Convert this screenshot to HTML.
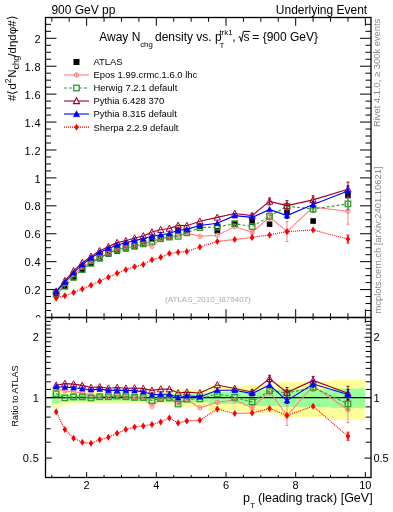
<!DOCTYPE html><html><head><meta charset="utf-8"><style>html,body{margin:0;padding:0;background:#fff;width:393px;height:512px;overflow:hidden;position:relative}</style></head><body><svg width="393" height="512" viewBox="0 0 393 512" style="position:absolute;left:0;top:0;will-change:transform"><rect width="393" height="512" fill="#fff"/><rect x="51.8" y="388.61" width="8.71" height="19.24" fill="#ffff99"/><rect x="60.51" y="391" width="8.71" height="13.97" fill="#ffff99"/><rect x="69.22" y="391.81" width="8.71" height="12.22" fill="#ffff99"/><rect x="77.93" y="391.81" width="8.71" height="12.22" fill="#ffff99"/><rect x="86.64" y="392.21" width="8.71" height="11.34" fill="#ffff99"/><rect x="95.35" y="392.21" width="8.71" height="11.34" fill="#ffff99"/><rect x="104.06" y="392.21" width="8.71" height="11.34" fill="#ffff99"/><rect x="112.77" y="392.21" width="8.71" height="11.34" fill="#ffff99"/><rect x="121.48" y="392.21" width="8.71" height="11.34" fill="#ffff99"/><rect x="130.19" y="392.21" width="8.71" height="11.34" fill="#ffff99"/><rect x="138.9" y="392.21" width="8.71" height="11.34" fill="#ffff99"/><rect x="147.61" y="391.81" width="8.71" height="12.22" fill="#ffff99"/><rect x="156.32" y="391.81" width="8.71" height="12.22" fill="#ffff99"/><rect x="165.03" y="391.81" width="8.71" height="12.22" fill="#ffff99"/><rect x="173.74" y="389.4" width="8.71" height="17.48" fill="#ffff99"/><rect x="182.45" y="389.4" width="8.71" height="17.48" fill="#ffff99"/><rect x="191.16" y="389.4" width="17.42" height="17.48" fill="#ffff99"/><rect x="208.58" y="386.28" width="17.42" height="24.55" fill="#ffff99"/><rect x="226" y="386.28" width="17.42" height="24.55" fill="#ffff99"/><rect x="243.42" y="384.77" width="17.42" height="28.12" fill="#ffff99"/><rect x="260.84" y="384.77" width="17.42" height="28.12" fill="#ffff99"/><rect x="278.26" y="381.82" width="17.42" height="35.32" fill="#ffff99"/><rect x="295.68" y="381.82" width="34.84" height="35.32" fill="#ffff99"/><rect x="330.52" y="380.02" width="34.84" height="39.89" fill="#ffff99"/><rect x="51.8" y="392.62" width="8.71" height="10.47" fill="#99ff99"/><rect x="60.51" y="394.7" width="8.71" height="6.1" fill="#99ff99"/><rect x="69.22" y="394.7" width="8.71" height="6.1" fill="#99ff99"/><rect x="77.93" y="394.7" width="8.71" height="6.1" fill="#99ff99"/><rect x="86.64" y="394.7" width="8.71" height="6.1" fill="#99ff99"/><rect x="95.35" y="394.7" width="8.71" height="6.1" fill="#99ff99"/><rect x="104.06" y="394.7" width="8.71" height="6.1" fill="#99ff99"/><rect x="112.77" y="394.7" width="8.71" height="6.1" fill="#99ff99"/><rect x="121.48" y="394.7" width="8.71" height="6.1" fill="#99ff99"/><rect x="130.19" y="394.7" width="8.71" height="6.1" fill="#99ff99"/><rect x="138.9" y="394.7" width="8.71" height="6.1" fill="#99ff99"/><rect x="147.61" y="394.28" width="8.71" height="6.97" fill="#99ff99"/><rect x="156.32" y="394.28" width="8.71" height="6.97" fill="#99ff99"/><rect x="165.03" y="394.28" width="8.71" height="6.97" fill="#99ff99"/><rect x="173.74" y="393.45" width="8.71" height="8.72" fill="#99ff99"/><rect x="182.45" y="393.45" width="8.71" height="8.72" fill="#99ff99"/><rect x="191.16" y="393.45" width="17.42" height="8.72" fill="#99ff99"/><rect x="208.58" y="391.81" width="17.42" height="12.22" fill="#99ff99"/><rect x="226" y="391.81" width="17.42" height="12.22" fill="#99ff99"/><rect x="243.42" y="390.19" width="17.42" height="15.72" fill="#99ff99"/><rect x="260.84" y="390.19" width="17.42" height="15.72" fill="#99ff99"/><rect x="278.26" y="389.4" width="17.42" height="17.48" fill="#99ff99"/><rect x="295.68" y="389.4" width="34.84" height="17.48" fill="#99ff99"/><rect x="330.52" y="388.61" width="34.84" height="19.24" fill="#99ff99"/><line x1="45.5" y1="397.7" x2="371.0" y2="397.7" stroke="#000" stroke-width="1.3"/><g><rect x="53.36" y="291.95" width="5.6" height="5.6" fill="#000" stroke="none" stroke-width="0"/><rect x="62.06" y="283.43" width="5.6" height="5.6" fill="#000" stroke="none" stroke-width="0"/><rect x="70.78" y="274.77" width="5.6" height="5.6" fill="#000" stroke="none" stroke-width="0"/><rect x="79.48" y="267.1" width="5.6" height="5.6" fill="#000" stroke="none" stroke-width="0"/><rect x="88.2" y="260.4" width="5.6" height="5.6" fill="#000" stroke="none" stroke-width="0"/><rect x="96.91" y="255.79" width="5.6" height="5.6" fill="#000" stroke="none" stroke-width="0"/><rect x="105.62" y="251.18" width="5.6" height="5.6" fill="#000" stroke="none" stroke-width="0"/><rect x="114.33" y="248.11" width="5.6" height="5.6" fill="#000" stroke="none" stroke-width="0"/><rect x="123.04" y="245.88" width="5.6" height="5.6" fill="#000" stroke="none" stroke-width="0"/><rect x="131.75" y="243.64" width="5.6" height="5.6" fill="#000" stroke="none" stroke-width="0"/><rect x="140.45" y="241.27" width="5.6" height="5.6" fill="#000" stroke="none" stroke-width="0"/><rect x="149.16" y="236.11" width="5.6" height="5.6" fill="#000" stroke="none" stroke-width="0"/><rect x="157.88" y="235.13" width="5.6" height="5.6" fill="#000" stroke="none" stroke-width="0"/><rect x="166.58" y="234.01" width="5.6" height="5.6" fill="#000" stroke="none" stroke-width="0"/><rect x="175.3" y="227.45" width="5.6" height="5.6" fill="#000" stroke="none" stroke-width="0"/><rect x="184" y="228.57" width="5.6" height="5.6" fill="#000" stroke="none" stroke-width="0"/><rect x="197.07" y="223.54" width="5.6" height="5.6" fill="#000" stroke="none" stroke-width="0"/><rect x="214.49" y="228.15" width="5.6" height="5.6" fill="#000" stroke="none" stroke-width="0"/><rect x="231.91" y="221.17" width="5.6" height="5.6" fill="#000" stroke="none" stroke-width="0"/><rect x="249.33" y="219.21" width="5.6" height="5.6" fill="#000" stroke="none" stroke-width="0"/><rect x="266.75" y="221.31" width="5.6" height="5.6" fill="#000" stroke="none" stroke-width="0"/><rect x="284.17" y="209.3" width="5.6" height="5.6" fill="#000" stroke="none" stroke-width="0"/><rect x="310.3" y="218.24" width="5.6" height="5.6" fill="#000" stroke="none" stroke-width="0"/><rect x="345.14" y="192.69" width="5.6" height="5.6" fill="#000" stroke="none" stroke-width="0"/><path d="M56.16 292.41 L64.86 283.65 L73.58 274.78 L82.28 267.26 L91 261.74 L99.7 257.43 L108.42 253.25 L117.12 249.13 L125.84 248.12 L134.55 246.2 L143.25 244.32 L151.97 246.29 L160.68 238.75 L169.38 237.09 L178.1 235.4 L186.81 233.13 L199.87 236.32 L217.29 235.31 L234.71 226.51 L252.13 232.37 L269.55 216.99 L286.97 231.58 L313.1 207.17 L347.94 211.19" fill="none" stroke="#ff8080" stroke-width="1.1"/><line x1="269.55" y1="212.99" x2="269.55" y2="220.99" stroke="#ff8080" stroke-width="1"/><line x1="268.05" y1="212.99" x2="271.05" y2="212.99" stroke="#ff8080" stroke-width="1"/><line x1="268.05" y1="220.99" x2="271.05" y2="220.99" stroke="#ff8080" stroke-width="1"/><line x1="286.97" y1="221.58" x2="286.97" y2="241.58" stroke="#ff8080" stroke-width="1"/><line x1="285.47" y1="221.58" x2="288.47" y2="221.58" stroke="#ff8080" stroke-width="1"/><line x1="285.47" y1="241.58" x2="288.47" y2="241.58" stroke="#ff8080" stroke-width="1"/><line x1="313.1" y1="203.17" x2="313.1" y2="211.17" stroke="#ff8080" stroke-width="1"/><line x1="311.6" y1="203.17" x2="314.6" y2="203.17" stroke="#ff8080" stroke-width="1"/><line x1="311.6" y1="211.17" x2="314.6" y2="211.17" stroke="#ff8080" stroke-width="1"/><line x1="347.94" y1="198.19" x2="347.94" y2="224.19" stroke="#ff8080" stroke-width="1"/><line x1="346.44" y1="198.19" x2="349.44" y2="198.19" stroke="#ff8080" stroke-width="1"/><line x1="346.44" y1="224.19" x2="349.44" y2="224.19" stroke="#ff8080" stroke-width="1"/><line x1="252.13" y1="229.37" x2="252.13" y2="235.37" stroke="#ff8080" stroke-width="1"/><line x1="250.63" y1="229.37" x2="253.63" y2="229.37" stroke="#ff8080" stroke-width="1"/><line x1="250.63" y1="235.37" x2="253.63" y2="235.37" stroke="#ff8080" stroke-width="1"/><circle cx="56.16" cy="292.41" r="2.2" fill="none" stroke="#ff8080" stroke-width="1"/><line x1="56.16" y1="290.21" x2="56.16" y2="294.61" stroke="#ff8080" stroke-width="0.8"/><circle cx="64.86" cy="283.65" r="2.2" fill="none" stroke="#ff8080" stroke-width="1"/><line x1="64.86" y1="281.45" x2="64.86" y2="285.85" stroke="#ff8080" stroke-width="0.8"/><circle cx="73.58" cy="274.78" r="2.2" fill="none" stroke="#ff8080" stroke-width="1"/><line x1="73.58" y1="272.58" x2="73.58" y2="276.98" stroke="#ff8080" stroke-width="0.8"/><circle cx="82.28" cy="267.26" r="2.2" fill="none" stroke="#ff8080" stroke-width="1"/><line x1="82.28" y1="265.06" x2="82.28" y2="269.46" stroke="#ff8080" stroke-width="0.8"/><circle cx="91" cy="261.74" r="2.2" fill="none" stroke="#ff8080" stroke-width="1"/><line x1="91" y1="259.54" x2="91" y2="263.94" stroke="#ff8080" stroke-width="0.8"/><circle cx="99.7" cy="257.43" r="2.2" fill="none" stroke="#ff8080" stroke-width="1"/><line x1="99.7" y1="255.23" x2="99.7" y2="259.63" stroke="#ff8080" stroke-width="0.8"/><circle cx="108.42" cy="253.25" r="2.2" fill="none" stroke="#ff8080" stroke-width="1"/><line x1="108.42" y1="251.05" x2="108.42" y2="255.45" stroke="#ff8080" stroke-width="0.8"/><circle cx="117.12" cy="249.13" r="2.2" fill="none" stroke="#ff8080" stroke-width="1"/><line x1="117.12" y1="246.93" x2="117.12" y2="251.33" stroke="#ff8080" stroke-width="0.8"/><circle cx="125.84" cy="248.12" r="2.2" fill="none" stroke="#ff8080" stroke-width="1"/><line x1="125.84" y1="245.92" x2="125.84" y2="250.32" stroke="#ff8080" stroke-width="0.8"/><circle cx="134.55" cy="246.2" r="2.2" fill="none" stroke="#ff8080" stroke-width="1"/><line x1="134.55" y1="244" x2="134.55" y2="248.4" stroke="#ff8080" stroke-width="0.8"/><circle cx="143.25" cy="244.32" r="2.2" fill="none" stroke="#ff8080" stroke-width="1"/><line x1="143.25" y1="242.12" x2="143.25" y2="246.52" stroke="#ff8080" stroke-width="0.8"/><circle cx="151.97" cy="246.29" r="2.2" fill="none" stroke="#ff8080" stroke-width="1"/><line x1="151.97" y1="244.09" x2="151.97" y2="248.49" stroke="#ff8080" stroke-width="0.8"/><circle cx="160.68" cy="238.75" r="2.2" fill="none" stroke="#ff8080" stroke-width="1"/><line x1="160.68" y1="236.55" x2="160.68" y2="240.95" stroke="#ff8080" stroke-width="0.8"/><circle cx="169.38" cy="237.09" r="2.2" fill="none" stroke="#ff8080" stroke-width="1"/><line x1="169.38" y1="234.89" x2="169.38" y2="239.29" stroke="#ff8080" stroke-width="0.8"/><circle cx="178.1" cy="235.4" r="2.2" fill="none" stroke="#ff8080" stroke-width="1"/><line x1="178.1" y1="233.2" x2="178.1" y2="237.6" stroke="#ff8080" stroke-width="0.8"/><circle cx="186.81" cy="233.13" r="2.2" fill="none" stroke="#ff8080" stroke-width="1"/><line x1="186.81" y1="230.93" x2="186.81" y2="235.33" stroke="#ff8080" stroke-width="0.8"/><circle cx="199.87" cy="236.32" r="2.2" fill="none" stroke="#ff8080" stroke-width="1"/><line x1="199.87" y1="234.12" x2="199.87" y2="238.52" stroke="#ff8080" stroke-width="0.8"/><circle cx="217.29" cy="235.31" r="2.2" fill="none" stroke="#ff8080" stroke-width="1"/><line x1="217.29" y1="233.11" x2="217.29" y2="237.51" stroke="#ff8080" stroke-width="0.8"/><circle cx="234.71" cy="226.51" r="2.2" fill="none" stroke="#ff8080" stroke-width="1"/><line x1="234.71" y1="224.31" x2="234.71" y2="228.71" stroke="#ff8080" stroke-width="0.8"/><circle cx="252.13" cy="232.37" r="2.2" fill="none" stroke="#ff8080" stroke-width="1"/><line x1="252.13" y1="230.17" x2="252.13" y2="234.57" stroke="#ff8080" stroke-width="0.8"/><circle cx="269.55" cy="216.99" r="2.2" fill="none" stroke="#ff8080" stroke-width="1"/><line x1="269.55" y1="214.79" x2="269.55" y2="219.19" stroke="#ff8080" stroke-width="0.8"/><circle cx="286.97" cy="231.58" r="2.2" fill="none" stroke="#ff8080" stroke-width="1"/><line x1="286.97" y1="229.38" x2="286.97" y2="233.78" stroke="#ff8080" stroke-width="0.8"/><circle cx="313.1" cy="207.17" r="2.2" fill="none" stroke="#ff8080" stroke-width="1"/><line x1="313.1" y1="204.97" x2="313.1" y2="209.37" stroke="#ff8080" stroke-width="0.8"/><circle cx="347.94" cy="211.19" r="2.2" fill="none" stroke="#ff8080" stroke-width="1"/><line x1="347.94" y1="208.99" x2="347.94" y2="213.39" stroke="#ff8080" stroke-width="0.8"/><path d="M56.16 293.7 L64.86 286.3 L73.58 277.21 L82.28 269.46 L91 263.38 L99.7 257.91 L108.42 253.25 L117.12 249.6 L125.84 247.88 L134.55 246.2 L143.25 243.9 L151.97 241.39 L160.68 238.75 L169.38 237.09 L178.1 236.34 L186.81 232.84 L199.87 227.59 L217.29 227.09 L234.71 223.65 L252.13 226.51 L269.55 216.41 L286.97 206.26 L313.1 209.05 L347.94 203.87" fill="none" stroke="#339933" stroke-width="1.1" stroke-dasharray="3,2"/><line x1="347.94" y1="197.87" x2="347.94" y2="209.87" stroke="#339933" stroke-width="1"/><line x1="346.44" y1="197.87" x2="349.44" y2="197.87" stroke="#339933" stroke-width="1"/><line x1="346.44" y1="209.87" x2="349.44" y2="209.87" stroke="#339933" stroke-width="1"/><line x1="313.1" y1="205.55" x2="313.1" y2="212.55" stroke="#339933" stroke-width="1"/><line x1="311.6" y1="205.55" x2="314.6" y2="205.55" stroke="#339933" stroke-width="1"/><line x1="311.6" y1="212.55" x2="314.6" y2="212.55" stroke="#339933" stroke-width="1"/><line x1="286.97" y1="203.26" x2="286.97" y2="209.26" stroke="#339933" stroke-width="1"/><line x1="285.47" y1="203.26" x2="288.47" y2="203.26" stroke="#339933" stroke-width="1"/><line x1="285.47" y1="209.26" x2="288.47" y2="209.26" stroke="#339933" stroke-width="1"/><rect x="53.41" y="290.95" width="5.5" height="5.5" fill="none" stroke="#339933" stroke-width="1.3"/><rect x="62.11" y="283.55" width="5.5" height="5.5" fill="none" stroke="#339933" stroke-width="1.3"/><rect x="70.83" y="274.46" width="5.5" height="5.5" fill="none" stroke="#339933" stroke-width="1.3"/><rect x="79.53" y="266.71" width="5.5" height="5.5" fill="none" stroke="#339933" stroke-width="1.3"/><rect x="88.25" y="260.63" width="5.5" height="5.5" fill="none" stroke="#339933" stroke-width="1.3"/><rect x="96.95" y="255.16" width="5.5" height="5.5" fill="none" stroke="#339933" stroke-width="1.3"/><rect x="105.67" y="250.5" width="5.5" height="5.5" fill="none" stroke="#339933" stroke-width="1.3"/><rect x="114.38" y="246.85" width="5.5" height="5.5" fill="none" stroke="#339933" stroke-width="1.3"/><rect x="123.09" y="245.13" width="5.5" height="5.5" fill="none" stroke="#339933" stroke-width="1.3"/><rect x="131.8" y="243.45" width="5.5" height="5.5" fill="none" stroke="#339933" stroke-width="1.3"/><rect x="140.5" y="241.15" width="5.5" height="5.5" fill="none" stroke="#339933" stroke-width="1.3"/><rect x="149.22" y="238.64" width="5.5" height="5.5" fill="none" stroke="#339933" stroke-width="1.3"/><rect x="157.93" y="236" width="5.5" height="5.5" fill="none" stroke="#339933" stroke-width="1.3"/><rect x="166.63" y="234.34" width="5.5" height="5.5" fill="none" stroke="#339933" stroke-width="1.3"/><rect x="175.35" y="233.59" width="5.5" height="5.5" fill="none" stroke="#339933" stroke-width="1.3"/><rect x="184.06" y="230.09" width="5.5" height="5.5" fill="none" stroke="#339933" stroke-width="1.3"/><rect x="197.12" y="224.84" width="5.5" height="5.5" fill="none" stroke="#339933" stroke-width="1.3"/><rect x="214.54" y="224.34" width="5.5" height="5.5" fill="none" stroke="#339933" stroke-width="1.3"/><rect x="231.96" y="220.9" width="5.5" height="5.5" fill="none" stroke="#339933" stroke-width="1.3"/><rect x="249.38" y="223.76" width="5.5" height="5.5" fill="none" stroke="#339933" stroke-width="1.3"/><rect x="266.8" y="213.66" width="5.5" height="5.5" fill="none" stroke="#339933" stroke-width="1.3"/><rect x="284.22" y="203.51" width="5.5" height="5.5" fill="none" stroke="#339933" stroke-width="1.3"/><rect x="310.35" y="206.3" width="5.5" height="5.5" fill="none" stroke="#339933" stroke-width="1.3"/><rect x="345.19" y="201.12" width="5.5" height="5.5" fill="none" stroke="#339933" stroke-width="1.3"/><path d="M56.16 291.23 L64.86 280.74 L73.58 270.83 L82.28 262.68 L91 256.45 L99.7 250.81 L108.42 246.66 L117.12 242.64 L125.84 240.75 L134.55 238.07 L143.25 235.99 L151.97 232.04 L160.68 229.67 L169.38 228.44 L178.1 225.41 L186.81 225.65 L199.87 221.29 L217.29 217.36 L234.71 213.55 L252.13 215.56 L269.55 201.41 L286.97 205.62 L313.1 199.85 L347.94 189.17" fill="none" stroke="#a00028" stroke-width="1.1"/><line x1="269.55" y1="197.91" x2="269.55" y2="204.91" stroke="#a00028" stroke-width="1"/><line x1="268.05" y1="197.91" x2="271.05" y2="197.91" stroke="#a00028" stroke-width="1"/><line x1="268.05" y1="204.91" x2="271.05" y2="204.91" stroke="#a00028" stroke-width="1"/><line x1="286.97" y1="200.62" x2="286.97" y2="210.62" stroke="#a00028" stroke-width="1"/><line x1="285.47" y1="200.62" x2="288.47" y2="200.62" stroke="#a00028" stroke-width="1"/><line x1="285.47" y1="210.62" x2="288.47" y2="210.62" stroke="#a00028" stroke-width="1"/><line x1="313.1" y1="195.85" x2="313.1" y2="203.85" stroke="#a00028" stroke-width="1"/><line x1="311.6" y1="195.85" x2="314.6" y2="195.85" stroke="#a00028" stroke-width="1"/><line x1="311.6" y1="203.85" x2="314.6" y2="203.85" stroke="#a00028" stroke-width="1"/><line x1="347.94" y1="182.17" x2="347.94" y2="196.17" stroke="#a00028" stroke-width="1"/><line x1="346.44" y1="182.17" x2="349.44" y2="182.17" stroke="#a00028" stroke-width="1"/><line x1="346.44" y1="196.17" x2="349.44" y2="196.17" stroke="#a00028" stroke-width="1"/><line x1="252.13" y1="213.56" x2="252.13" y2="217.56" stroke="#a00028" stroke-width="1"/><line x1="250.63" y1="213.56" x2="253.63" y2="213.56" stroke="#a00028" stroke-width="1"/><line x1="250.63" y1="217.56" x2="253.63" y2="217.56" stroke="#a00028" stroke-width="1"/><path d="M56.16 287.89L59.36 293.97L52.95 293.97Z" fill="none" stroke="#a00028" stroke-width="1.0"/><path d="M64.86 277.39L68.06 283.47L61.66 283.47Z" fill="none" stroke="#a00028" stroke-width="1.0"/><path d="M73.58 267.48L76.78 273.56L70.38 273.56Z" fill="none" stroke="#a00028" stroke-width="1.0"/><path d="M82.28 259.33L85.48 265.41L79.08 265.41Z" fill="none" stroke="#a00028" stroke-width="1.0"/><path d="M91 253.11L94.2 259.19L87.8 259.19Z" fill="none" stroke="#a00028" stroke-width="1.0"/><path d="M99.7 247.47L102.91 253.55L96.5 253.55Z" fill="none" stroke="#a00028" stroke-width="1.0"/><path d="M108.42 243.32L111.62 249.4L105.22 249.4Z" fill="none" stroke="#a00028" stroke-width="1.0"/><path d="M117.12 239.3L120.33 245.38L113.92 245.38Z" fill="none" stroke="#a00028" stroke-width="1.0"/><path d="M125.84 237.4L129.03 243.48L122.64 243.48Z" fill="none" stroke="#a00028" stroke-width="1.0"/><path d="M134.55 234.73L137.75 240.81L131.35 240.81Z" fill="none" stroke="#a00028" stroke-width="1.0"/><path d="M143.25 232.64L146.45 238.72L140.06 238.72Z" fill="none" stroke="#a00028" stroke-width="1.0"/><path d="M151.97 228.69L155.16 234.77L148.77 234.77Z" fill="none" stroke="#a00028" stroke-width="1.0"/><path d="M160.68 226.33L163.88 232.41L157.48 232.41Z" fill="none" stroke="#a00028" stroke-width="1.0"/><path d="M169.38 225.1L172.58 231.18L166.19 231.18Z" fill="none" stroke="#a00028" stroke-width="1.0"/><path d="M178.1 222.07L181.3 228.15L174.9 228.15Z" fill="none" stroke="#a00028" stroke-width="1.0"/><path d="M186.81 222.3L190 228.38L183.61 228.38Z" fill="none" stroke="#a00028" stroke-width="1.0"/><path d="M199.87 217.94L203.07 224.02L196.67 224.02Z" fill="none" stroke="#a00028" stroke-width="1.0"/><path d="M217.29 214.02L220.49 220.1L214.09 220.1Z" fill="none" stroke="#a00028" stroke-width="1.0"/><path d="M234.71 210.21L237.91 216.29L231.51 216.29Z" fill="none" stroke="#a00028" stroke-width="1.0"/><path d="M252.13 212.21L255.33 218.29L248.93 218.29Z" fill="none" stroke="#a00028" stroke-width="1.0"/><path d="M269.55 198.07L272.75 204.15L266.35 204.15Z" fill="none" stroke="#a00028" stroke-width="1.0"/><path d="M286.97 202.28L290.17 208.36L283.77 208.36Z" fill="none" stroke="#a00028" stroke-width="1.0"/><path d="M313.1 196.5L316.3 202.58L309.9 202.58Z" fill="none" stroke="#a00028" stroke-width="1.0"/><path d="M347.94 185.83L351.14 191.91L344.74 191.91Z" fill="none" stroke="#a00028" stroke-width="1.0"/><path d="M56.16 291.68 L64.86 282.22 L73.58 272.72 L82.28 264.72 L91 257.97 L99.7 252.48 L108.42 248.43 L117.12 245.09 L125.84 242.66 L134.55 240.5 L143.25 238.74 L151.97 236.24 L160.68 234.67 L169.38 233.5 L178.1 230.25 L186.81 229.37 L199.87 225.5 L217.29 223.27 L234.71 215.68 L252.13 217.41 L269.55 209.45 L286.97 215.55 L313.1 204.61 L347.94 190.92" fill="none" stroke="#0000ff" stroke-width="1.1"/><line x1="286.97" y1="212.55" x2="286.97" y2="218.55" stroke="#0000ff" stroke-width="1"/><line x1="285.47" y1="212.55" x2="288.47" y2="212.55" stroke="#0000ff" stroke-width="1"/><line x1="285.47" y1="218.55" x2="288.47" y2="218.55" stroke="#0000ff" stroke-width="1"/><line x1="347.94" y1="185.92" x2="347.94" y2="195.92" stroke="#0000ff" stroke-width="1"/><line x1="346.44" y1="185.92" x2="349.44" y2="185.92" stroke="#0000ff" stroke-width="1"/><line x1="346.44" y1="195.92" x2="349.44" y2="195.92" stroke="#0000ff" stroke-width="1"/><line x1="313.1" y1="201.61" x2="313.1" y2="207.61" stroke="#0000ff" stroke-width="1"/><line x1="311.6" y1="201.61" x2="314.6" y2="201.61" stroke="#0000ff" stroke-width="1"/><line x1="311.6" y1="207.61" x2="314.6" y2="207.61" stroke="#0000ff" stroke-width="1"/><path d="M56.16 288.76L58.95 294.08L53.36 294.08Z" fill="#0000ff" stroke="#0000ff" stroke-width="0.6"/><path d="M64.86 279.3L67.66 284.62L62.06 284.62Z" fill="#0000ff" stroke="#0000ff" stroke-width="0.6"/><path d="M73.58 269.79L76.38 275.11L70.78 275.11Z" fill="#0000ff" stroke="#0000ff" stroke-width="0.6"/><path d="M82.28 261.79L85.08 267.11L79.48 267.11Z" fill="#0000ff" stroke="#0000ff" stroke-width="0.6"/><path d="M91 255.05L93.8 260.37L88.2 260.37Z" fill="#0000ff" stroke="#0000ff" stroke-width="0.6"/><path d="M99.7 249.55L102.5 254.87L96.91 254.87Z" fill="#0000ff" stroke="#0000ff" stroke-width="0.6"/><path d="M108.42 245.5L111.22 250.82L105.62 250.82Z" fill="#0000ff" stroke="#0000ff" stroke-width="0.6"/><path d="M117.12 242.16L119.92 247.48L114.33 247.48Z" fill="#0000ff" stroke="#0000ff" stroke-width="0.6"/><path d="M125.84 239.74L128.64 245.06L123.04 245.06Z" fill="#0000ff" stroke="#0000ff" stroke-width="0.6"/><path d="M134.55 237.57L137.35 242.89L131.75 242.89Z" fill="#0000ff" stroke="#0000ff" stroke-width="0.6"/><path d="M143.25 235.82L146.06 241.14L140.45 241.14Z" fill="#0000ff" stroke="#0000ff" stroke-width="0.6"/><path d="M151.97 233.32L154.77 238.64L149.16 238.64Z" fill="#0000ff" stroke="#0000ff" stroke-width="0.6"/><path d="M160.68 231.74L163.48 237.06L157.88 237.06Z" fill="#0000ff" stroke="#0000ff" stroke-width="0.6"/><path d="M169.38 230.58L172.19 235.9L166.58 235.9Z" fill="#0000ff" stroke="#0000ff" stroke-width="0.6"/><path d="M178.1 227.32L180.9 232.64L175.3 232.64Z" fill="#0000ff" stroke="#0000ff" stroke-width="0.6"/><path d="M186.81 226.44L189.61 231.76L184 231.76Z" fill="#0000ff" stroke="#0000ff" stroke-width="0.6"/><path d="M199.87 222.57L202.67 227.89L197.07 227.89Z" fill="#0000ff" stroke="#0000ff" stroke-width="0.6"/><path d="M217.29 220.35L220.09 225.67L214.49 225.67Z" fill="#0000ff" stroke="#0000ff" stroke-width="0.6"/><path d="M234.71 212.75L237.51 218.07L231.91 218.07Z" fill="#0000ff" stroke="#0000ff" stroke-width="0.6"/><path d="M252.13 214.49L254.93 219.81L249.33 219.81Z" fill="#0000ff" stroke="#0000ff" stroke-width="0.6"/><path d="M269.55 206.52L272.35 211.84L266.75 211.84Z" fill="#0000ff" stroke="#0000ff" stroke-width="0.6"/><path d="M286.97 212.63L289.77 217.95L284.17 217.95Z" fill="#0000ff" stroke="#0000ff" stroke-width="0.6"/><path d="M313.1 201.68L315.9 207L310.3 207Z" fill="#0000ff" stroke="#0000ff" stroke-width="0.6"/><path d="M347.94 188L350.74 193.32L345.14 193.32Z" fill="#0000ff" stroke="#0000ff" stroke-width="0.6"/><path d="M56.16 298.15 L64.86 295.82 L73.58 292.42 L82.28 288.97 L91 285.33 L99.7 281.16 L108.42 277.14 L117.12 273.2 L125.84 269.78 L134.55 266.74 L143.25 264.44 L151.97 259.72 L160.68 257.3 L169.38 253.51 L178.1 252.24 L186.81 251.5 L199.87 247.09 L217.29 241.48 L234.71 239.48 L252.13 237.48 L269.55 234.9 L286.97 231.58 L313.1 230 L347.94 239.07" fill="none" stroke="#ff0000" stroke-width="1.2" stroke-dasharray="1,1"/><line x1="347.94" y1="235.07" x2="347.94" y2="243.07" stroke="#ff0000" stroke-width="1"/><line x1="346.44" y1="235.07" x2="349.44" y2="235.07" stroke="#ff0000" stroke-width="1"/><line x1="346.44" y1="243.07" x2="349.44" y2="243.07" stroke="#ff0000" stroke-width="1"/><path d="M56.16 294.65L58.45 298.15L56.16 301.65L53.86 298.15Z" fill="#ff0000"/><path d="M64.86 292.32L67.16 295.82L64.86 299.32L62.56 295.82Z" fill="#ff0000"/><path d="M73.58 288.92L75.88 292.42L73.58 295.92L71.28 292.42Z" fill="#ff0000"/><path d="M82.28 285.47L84.58 288.97L82.28 292.47L79.98 288.97Z" fill="#ff0000"/><path d="M91 281.83L93.3 285.33L91 288.83L88.7 285.33Z" fill="#ff0000"/><path d="M99.7 277.66L102 281.16L99.7 284.66L97.41 281.16Z" fill="#ff0000"/><path d="M108.42 273.64L110.72 277.14L108.42 280.64L106.12 277.14Z" fill="#ff0000"/><path d="M117.12 269.7L119.42 273.2L117.12 276.7L114.83 273.2Z" fill="#ff0000"/><path d="M125.84 266.28L128.14 269.78L125.84 273.28L123.54 269.78Z" fill="#ff0000"/><path d="M134.55 263.24L136.85 266.74L134.55 270.24L132.25 266.74Z" fill="#ff0000"/><path d="M143.25 260.94L145.56 264.44L143.25 267.94L140.95 264.44Z" fill="#ff0000"/><path d="M151.97 256.22L154.27 259.72L151.97 263.22L149.66 259.72Z" fill="#ff0000"/><path d="M160.68 253.8L162.98 257.3L160.68 260.8L158.38 257.3Z" fill="#ff0000"/><path d="M169.38 250.01L171.69 253.51L169.38 257.01L167.08 253.51Z" fill="#ff0000"/><path d="M178.1 248.74L180.4 252.24L178.1 255.74L175.8 252.24Z" fill="#ff0000"/><path d="M186.81 248L189.11 251.5L186.81 255L184.5 251.5Z" fill="#ff0000"/><path d="M199.87 243.59L202.17 247.09L199.87 250.59L197.57 247.09Z" fill="#ff0000"/><path d="M217.29 237.98L219.59 241.48L217.29 244.98L214.99 241.48Z" fill="#ff0000"/><path d="M234.71 235.98L237.01 239.48L234.71 242.98L232.41 239.48Z" fill="#ff0000"/><path d="M252.13 233.98L254.43 237.48L252.13 240.98L249.83 237.48Z" fill="#ff0000"/><path d="M269.55 231.4L271.85 234.9L269.55 238.4L267.25 234.9Z" fill="#ff0000"/><path d="M286.97 228.08L289.27 231.58L286.97 235.08L284.67 231.58Z" fill="#ff0000"/><path d="M313.1 226.5L315.4 230L313.1 233.5L310.8 230Z" fill="#ff0000"/><path d="M347.94 235.57L350.24 239.07L347.94 242.57L345.64 239.07Z" fill="#ff0000"/></g><g><path d="M56.16 389.2 L64.86 390.8 L73.58 391.8 L82.28 393 L91 395.4 L99.7 396 L108.42 396.7 L117.12 395.4 L125.84 397 L134.55 397.4 L143.25 398 L151.97 406.3 L160.68 398.6 L169.38 398 L178.1 403 L186.81 399.5 L199.87 407.8 L217.29 402.2 L234.71 400.1 L252.13 407.7 L269.55 391.3 L286.97 415.5 L313.1 386 L347.94 409.7" fill="none" stroke="#ff8080" stroke-width="1.1"/><line x1="269.55" y1="387.3" x2="269.55" y2="395.3" stroke="#ff8080" stroke-width="1"/><line x1="268.05" y1="387.3" x2="271.05" y2="387.3" stroke="#ff8080" stroke-width="1"/><line x1="268.05" y1="395.3" x2="271.05" y2="395.3" stroke="#ff8080" stroke-width="1"/><line x1="286.97" y1="405.5" x2="286.97" y2="425.5" stroke="#ff8080" stroke-width="1"/><line x1="285.47" y1="405.5" x2="288.47" y2="405.5" stroke="#ff8080" stroke-width="1"/><line x1="285.47" y1="425.5" x2="288.47" y2="425.5" stroke="#ff8080" stroke-width="1"/><line x1="313.1" y1="382" x2="313.1" y2="390" stroke="#ff8080" stroke-width="1"/><line x1="311.6" y1="382" x2="314.6" y2="382" stroke="#ff8080" stroke-width="1"/><line x1="311.6" y1="390" x2="314.6" y2="390" stroke="#ff8080" stroke-width="1"/><line x1="347.94" y1="396.7" x2="347.94" y2="422.7" stroke="#ff8080" stroke-width="1"/><line x1="346.44" y1="396.7" x2="349.44" y2="396.7" stroke="#ff8080" stroke-width="1"/><line x1="346.44" y1="422.7" x2="349.44" y2="422.7" stroke="#ff8080" stroke-width="1"/><line x1="252.13" y1="404.7" x2="252.13" y2="410.7" stroke="#ff8080" stroke-width="1"/><line x1="250.63" y1="404.7" x2="253.63" y2="404.7" stroke="#ff8080" stroke-width="1"/><line x1="250.63" y1="410.7" x2="253.63" y2="410.7" stroke="#ff8080" stroke-width="1"/><circle cx="56.16" cy="389.2" r="2.2" fill="none" stroke="#ff8080" stroke-width="1"/><line x1="56.16" y1="387" x2="56.16" y2="391.4" stroke="#ff8080" stroke-width="0.8"/><circle cx="64.86" cy="390.8" r="2.2" fill="none" stroke="#ff8080" stroke-width="1"/><line x1="64.86" y1="388.6" x2="64.86" y2="393" stroke="#ff8080" stroke-width="0.8"/><circle cx="73.58" cy="391.8" r="2.2" fill="none" stroke="#ff8080" stroke-width="1"/><line x1="73.58" y1="389.6" x2="73.58" y2="394" stroke="#ff8080" stroke-width="0.8"/><circle cx="82.28" cy="393" r="2.2" fill="none" stroke="#ff8080" stroke-width="1"/><line x1="82.28" y1="390.8" x2="82.28" y2="395.2" stroke="#ff8080" stroke-width="0.8"/><circle cx="91" cy="395.4" r="2.2" fill="none" stroke="#ff8080" stroke-width="1"/><line x1="91" y1="393.2" x2="91" y2="397.6" stroke="#ff8080" stroke-width="0.8"/><circle cx="99.7" cy="396" r="2.2" fill="none" stroke="#ff8080" stroke-width="1"/><line x1="99.7" y1="393.8" x2="99.7" y2="398.2" stroke="#ff8080" stroke-width="0.8"/><circle cx="108.42" cy="396.7" r="2.2" fill="none" stroke="#ff8080" stroke-width="1"/><line x1="108.42" y1="394.5" x2="108.42" y2="398.9" stroke="#ff8080" stroke-width="0.8"/><circle cx="117.12" cy="395.4" r="2.2" fill="none" stroke="#ff8080" stroke-width="1"/><line x1="117.12" y1="393.2" x2="117.12" y2="397.6" stroke="#ff8080" stroke-width="0.8"/><circle cx="125.84" cy="397" r="2.2" fill="none" stroke="#ff8080" stroke-width="1"/><line x1="125.84" y1="394.8" x2="125.84" y2="399.2" stroke="#ff8080" stroke-width="0.8"/><circle cx="134.55" cy="397.4" r="2.2" fill="none" stroke="#ff8080" stroke-width="1"/><line x1="134.55" y1="395.2" x2="134.55" y2="399.6" stroke="#ff8080" stroke-width="0.8"/><circle cx="143.25" cy="398" r="2.2" fill="none" stroke="#ff8080" stroke-width="1"/><line x1="143.25" y1="395.8" x2="143.25" y2="400.2" stroke="#ff8080" stroke-width="0.8"/><circle cx="151.97" cy="406.3" r="2.2" fill="none" stroke="#ff8080" stroke-width="1"/><line x1="151.97" y1="404.1" x2="151.97" y2="408.5" stroke="#ff8080" stroke-width="0.8"/><circle cx="160.68" cy="398.6" r="2.2" fill="none" stroke="#ff8080" stroke-width="1"/><line x1="160.68" y1="396.4" x2="160.68" y2="400.8" stroke="#ff8080" stroke-width="0.8"/><circle cx="169.38" cy="398" r="2.2" fill="none" stroke="#ff8080" stroke-width="1"/><line x1="169.38" y1="395.8" x2="169.38" y2="400.2" stroke="#ff8080" stroke-width="0.8"/><circle cx="178.1" cy="403" r="2.2" fill="none" stroke="#ff8080" stroke-width="1"/><line x1="178.1" y1="400.8" x2="178.1" y2="405.2" stroke="#ff8080" stroke-width="0.8"/><circle cx="186.81" cy="399.5" r="2.2" fill="none" stroke="#ff8080" stroke-width="1"/><line x1="186.81" y1="397.3" x2="186.81" y2="401.7" stroke="#ff8080" stroke-width="0.8"/><circle cx="199.87" cy="407.8" r="2.2" fill="none" stroke="#ff8080" stroke-width="1"/><line x1="199.87" y1="405.6" x2="199.87" y2="410" stroke="#ff8080" stroke-width="0.8"/><circle cx="217.29" cy="402.2" r="2.2" fill="none" stroke="#ff8080" stroke-width="1"/><line x1="217.29" y1="400" x2="217.29" y2="404.4" stroke="#ff8080" stroke-width="0.8"/><circle cx="234.71" cy="400.1" r="2.2" fill="none" stroke="#ff8080" stroke-width="1"/><line x1="234.71" y1="397.9" x2="234.71" y2="402.3" stroke="#ff8080" stroke-width="0.8"/><circle cx="252.13" cy="407.7" r="2.2" fill="none" stroke="#ff8080" stroke-width="1"/><line x1="252.13" y1="405.5" x2="252.13" y2="409.9" stroke="#ff8080" stroke-width="0.8"/><circle cx="269.55" cy="391.3" r="2.2" fill="none" stroke="#ff8080" stroke-width="1"/><line x1="269.55" y1="389.1" x2="269.55" y2="393.5" stroke="#ff8080" stroke-width="0.8"/><circle cx="286.97" cy="415.5" r="2.2" fill="none" stroke="#ff8080" stroke-width="1"/><line x1="286.97" y1="413.3" x2="286.97" y2="417.7" stroke="#ff8080" stroke-width="0.8"/><circle cx="313.1" cy="386" r="2.2" fill="none" stroke="#ff8080" stroke-width="1"/><line x1="313.1" y1="383.8" x2="313.1" y2="388.2" stroke="#ff8080" stroke-width="0.8"/><circle cx="347.94" cy="409.7" r="2.2" fill="none" stroke="#ff8080" stroke-width="1"/><line x1="347.94" y1="407.5" x2="347.94" y2="411.9" stroke="#ff8080" stroke-width="0.8"/><path d="M56.16 393.8 L64.86 397.9 L73.58 396.9 L82.28 396.9 L91 398 L99.7 396.7 L108.42 396.7 L117.12 396 L125.84 396.7 L134.55 397.4 L143.25 397.5 L151.97 400.5 L160.68 398.6 L169.38 398 L178.1 404 L186.81 399.2 L199.87 398.9 L217.29 393.9 L234.71 397.4 L252.13 401.9 L269.55 390.8 L286.97 393 L313.1 387.5 L347.94 403.9" fill="none" stroke="#339933" stroke-width="1.1" stroke-dasharray="3,2"/><line x1="347.94" y1="397.9" x2="347.94" y2="409.9" stroke="#339933" stroke-width="1"/><line x1="346.44" y1="397.9" x2="349.44" y2="397.9" stroke="#339933" stroke-width="1"/><line x1="346.44" y1="409.9" x2="349.44" y2="409.9" stroke="#339933" stroke-width="1"/><line x1="313.1" y1="384" x2="313.1" y2="391" stroke="#339933" stroke-width="1"/><line x1="311.6" y1="384" x2="314.6" y2="384" stroke="#339933" stroke-width="1"/><line x1="311.6" y1="391" x2="314.6" y2="391" stroke="#339933" stroke-width="1"/><line x1="286.97" y1="390" x2="286.97" y2="396" stroke="#339933" stroke-width="1"/><line x1="285.47" y1="390" x2="288.47" y2="390" stroke="#339933" stroke-width="1"/><line x1="285.47" y1="396" x2="288.47" y2="396" stroke="#339933" stroke-width="1"/><rect x="53.41" y="391.05" width="5.5" height="5.5" fill="none" stroke="#339933" stroke-width="1.3"/><rect x="62.11" y="395.15" width="5.5" height="5.5" fill="none" stroke="#339933" stroke-width="1.3"/><rect x="70.83" y="394.15" width="5.5" height="5.5" fill="none" stroke="#339933" stroke-width="1.3"/><rect x="79.53" y="394.15" width="5.5" height="5.5" fill="none" stroke="#339933" stroke-width="1.3"/><rect x="88.25" y="395.25" width="5.5" height="5.5" fill="none" stroke="#339933" stroke-width="1.3"/><rect x="96.95" y="393.95" width="5.5" height="5.5" fill="none" stroke="#339933" stroke-width="1.3"/><rect x="105.67" y="393.95" width="5.5" height="5.5" fill="none" stroke="#339933" stroke-width="1.3"/><rect x="114.38" y="393.25" width="5.5" height="5.5" fill="none" stroke="#339933" stroke-width="1.3"/><rect x="123.09" y="393.95" width="5.5" height="5.5" fill="none" stroke="#339933" stroke-width="1.3"/><rect x="131.8" y="394.65" width="5.5" height="5.5" fill="none" stroke="#339933" stroke-width="1.3"/><rect x="140.5" y="394.75" width="5.5" height="5.5" fill="none" stroke="#339933" stroke-width="1.3"/><rect x="149.22" y="397.75" width="5.5" height="5.5" fill="none" stroke="#339933" stroke-width="1.3"/><rect x="157.93" y="395.85" width="5.5" height="5.5" fill="none" stroke="#339933" stroke-width="1.3"/><rect x="166.63" y="395.25" width="5.5" height="5.5" fill="none" stroke="#339933" stroke-width="1.3"/><rect x="175.35" y="401.25" width="5.5" height="5.5" fill="none" stroke="#339933" stroke-width="1.3"/><rect x="184.06" y="396.45" width="5.5" height="5.5" fill="none" stroke="#339933" stroke-width="1.3"/><rect x="197.12" y="396.15" width="5.5" height="5.5" fill="none" stroke="#339933" stroke-width="1.3"/><rect x="214.54" y="391.15" width="5.5" height="5.5" fill="none" stroke="#339933" stroke-width="1.3"/><rect x="231.96" y="394.65" width="5.5" height="5.5" fill="none" stroke="#339933" stroke-width="1.3"/><rect x="249.38" y="399.15" width="5.5" height="5.5" fill="none" stroke="#339933" stroke-width="1.3"/><rect x="266.8" y="388.05" width="5.5" height="5.5" fill="none" stroke="#339933" stroke-width="1.3"/><rect x="284.22" y="390.25" width="5.5" height="5.5" fill="none" stroke="#339933" stroke-width="1.3"/><rect x="310.35" y="384.75" width="5.5" height="5.5" fill="none" stroke="#339933" stroke-width="1.3"/><rect x="345.19" y="401.15" width="5.5" height="5.5" fill="none" stroke="#339933" stroke-width="1.3"/><path d="M56.16 385.2 L64.86 383.6 L73.58 384.1 L82.28 385.4 L91 387.5 L99.7 386.9 L108.42 388.2 L117.12 387.5 L125.84 388.2 L134.55 388 L143.25 388.6 L151.97 390.4 L160.68 389.1 L169.38 389.1 L178.1 393 L186.81 392.1 L199.87 393 L217.29 385 L234.71 388.5 L252.13 392 L269.55 378.75 L286.97 392.5 L313.1 380.4 L347.94 393.3" fill="none" stroke="#a00028" stroke-width="1.1"/><line x1="269.55" y1="375.25" x2="269.55" y2="382.25" stroke="#a00028" stroke-width="1"/><line x1="268.05" y1="375.25" x2="271.05" y2="375.25" stroke="#a00028" stroke-width="1"/><line x1="268.05" y1="382.25" x2="271.05" y2="382.25" stroke="#a00028" stroke-width="1"/><line x1="286.97" y1="387.5" x2="286.97" y2="397.5" stroke="#a00028" stroke-width="1"/><line x1="285.47" y1="387.5" x2="288.47" y2="387.5" stroke="#a00028" stroke-width="1"/><line x1="285.47" y1="397.5" x2="288.47" y2="397.5" stroke="#a00028" stroke-width="1"/><line x1="313.1" y1="376.4" x2="313.1" y2="384.4" stroke="#a00028" stroke-width="1"/><line x1="311.6" y1="376.4" x2="314.6" y2="376.4" stroke="#a00028" stroke-width="1"/><line x1="311.6" y1="384.4" x2="314.6" y2="384.4" stroke="#a00028" stroke-width="1"/><line x1="347.94" y1="386.3" x2="347.94" y2="400.3" stroke="#a00028" stroke-width="1"/><line x1="346.44" y1="386.3" x2="349.44" y2="386.3" stroke="#a00028" stroke-width="1"/><line x1="346.44" y1="400.3" x2="349.44" y2="400.3" stroke="#a00028" stroke-width="1"/><line x1="252.13" y1="390" x2="252.13" y2="394" stroke="#a00028" stroke-width="1"/><line x1="250.63" y1="390" x2="253.63" y2="390" stroke="#a00028" stroke-width="1"/><line x1="250.63" y1="394" x2="253.63" y2="394" stroke="#a00028" stroke-width="1"/><path d="M56.16 381.86L59.36 387.94L52.95 387.94Z" fill="none" stroke="#a00028" stroke-width="1.0"/><path d="M64.86 380.26L68.06 386.34L61.66 386.34Z" fill="none" stroke="#a00028" stroke-width="1.0"/><path d="M73.58 380.76L76.78 386.84L70.38 386.84Z" fill="none" stroke="#a00028" stroke-width="1.0"/><path d="M82.28 382.06L85.48 388.14L79.08 388.14Z" fill="none" stroke="#a00028" stroke-width="1.0"/><path d="M91 384.16L94.2 390.24L87.8 390.24Z" fill="none" stroke="#a00028" stroke-width="1.0"/><path d="M99.7 383.56L102.91 389.64L96.5 389.64Z" fill="none" stroke="#a00028" stroke-width="1.0"/><path d="M108.42 384.86L111.62 390.94L105.22 390.94Z" fill="none" stroke="#a00028" stroke-width="1.0"/><path d="M117.12 384.16L120.33 390.24L113.92 390.24Z" fill="none" stroke="#a00028" stroke-width="1.0"/><path d="M125.84 384.86L129.03 390.94L122.64 390.94Z" fill="none" stroke="#a00028" stroke-width="1.0"/><path d="M134.55 384.66L137.75 390.74L131.35 390.74Z" fill="none" stroke="#a00028" stroke-width="1.0"/><path d="M143.25 385.26L146.45 391.34L140.06 391.34Z" fill="none" stroke="#a00028" stroke-width="1.0"/><path d="M151.97 387.06L155.16 393.14L148.77 393.14Z" fill="none" stroke="#a00028" stroke-width="1.0"/><path d="M160.68 385.76L163.88 391.84L157.48 391.84Z" fill="none" stroke="#a00028" stroke-width="1.0"/><path d="M169.38 385.76L172.58 391.84L166.19 391.84Z" fill="none" stroke="#a00028" stroke-width="1.0"/><path d="M178.1 389.66L181.3 395.74L174.9 395.74Z" fill="none" stroke="#a00028" stroke-width="1.0"/><path d="M186.81 388.76L190 394.84L183.61 394.84Z" fill="none" stroke="#a00028" stroke-width="1.0"/><path d="M199.87 389.66L203.07 395.74L196.67 395.74Z" fill="none" stroke="#a00028" stroke-width="1.0"/><path d="M217.29 381.66L220.49 387.74L214.09 387.74Z" fill="none" stroke="#a00028" stroke-width="1.0"/><path d="M234.71 385.16L237.91 391.24L231.51 391.24Z" fill="none" stroke="#a00028" stroke-width="1.0"/><path d="M252.13 388.66L255.33 394.74L248.93 394.74Z" fill="none" stroke="#a00028" stroke-width="1.0"/><path d="M269.55 375.41L272.75 381.49L266.35 381.49Z" fill="none" stroke="#a00028" stroke-width="1.0"/><path d="M286.97 389.16L290.17 395.24L283.77 395.24Z" fill="none" stroke="#a00028" stroke-width="1.0"/><path d="M313.1 377.06L316.3 383.14L309.9 383.14Z" fill="none" stroke="#a00028" stroke-width="1.0"/><path d="M347.94 389.96L351.14 396.04L344.74 396.04Z" fill="none" stroke="#a00028" stroke-width="1.0"/><path d="M56.16 386.7 L64.86 387.2 L73.58 387.7 L82.28 388.7 L91 389.7 L99.7 389.1 L108.42 390.4 L117.12 390.4 L125.84 390.4 L134.55 390.7 L143.25 391.6 L151.97 394.8 L160.68 394.2 L169.38 394.2 L178.1 397.7 L186.81 395.7 L199.87 396.9 L217.29 390.3 L234.71 390.3 L252.13 393.6 L269.55 385 L286.97 400.6 L313.1 384 L347.94 394.5" fill="none" stroke="#0000ff" stroke-width="1.1"/><line x1="286.97" y1="397.6" x2="286.97" y2="403.6" stroke="#0000ff" stroke-width="1"/><line x1="285.47" y1="397.6" x2="288.47" y2="397.6" stroke="#0000ff" stroke-width="1"/><line x1="285.47" y1="403.6" x2="288.47" y2="403.6" stroke="#0000ff" stroke-width="1"/><line x1="347.94" y1="389.5" x2="347.94" y2="399.5" stroke="#0000ff" stroke-width="1"/><line x1="346.44" y1="389.5" x2="349.44" y2="389.5" stroke="#0000ff" stroke-width="1"/><line x1="346.44" y1="399.5" x2="349.44" y2="399.5" stroke="#0000ff" stroke-width="1"/><line x1="313.1" y1="381" x2="313.1" y2="387" stroke="#0000ff" stroke-width="1"/><line x1="311.6" y1="381" x2="314.6" y2="381" stroke="#0000ff" stroke-width="1"/><line x1="311.6" y1="387" x2="314.6" y2="387" stroke="#0000ff" stroke-width="1"/><path d="M56.16 383.77L58.95 389.09L53.36 389.09Z" fill="#0000ff" stroke="#0000ff" stroke-width="0.6"/><path d="M64.86 384.27L67.66 389.59L62.06 389.59Z" fill="#0000ff" stroke="#0000ff" stroke-width="0.6"/><path d="M73.58 384.77L76.38 390.09L70.78 390.09Z" fill="#0000ff" stroke="#0000ff" stroke-width="0.6"/><path d="M82.28 385.77L85.08 391.09L79.48 391.09Z" fill="#0000ff" stroke="#0000ff" stroke-width="0.6"/><path d="M91 386.77L93.8 392.09L88.2 392.09Z" fill="#0000ff" stroke="#0000ff" stroke-width="0.6"/><path d="M99.7 386.17L102.5 391.49L96.91 391.49Z" fill="#0000ff" stroke="#0000ff" stroke-width="0.6"/><path d="M108.42 387.47L111.22 392.79L105.62 392.79Z" fill="#0000ff" stroke="#0000ff" stroke-width="0.6"/><path d="M117.12 387.47L119.92 392.79L114.33 392.79Z" fill="#0000ff" stroke="#0000ff" stroke-width="0.6"/><path d="M125.84 387.47L128.64 392.79L123.04 392.79Z" fill="#0000ff" stroke="#0000ff" stroke-width="0.6"/><path d="M134.55 387.77L137.35 393.09L131.75 393.09Z" fill="#0000ff" stroke="#0000ff" stroke-width="0.6"/><path d="M143.25 388.67L146.06 393.99L140.45 393.99Z" fill="#0000ff" stroke="#0000ff" stroke-width="0.6"/><path d="M151.97 391.87L154.77 397.19L149.16 397.19Z" fill="#0000ff" stroke="#0000ff" stroke-width="0.6"/><path d="M160.68 391.27L163.48 396.59L157.88 396.59Z" fill="#0000ff" stroke="#0000ff" stroke-width="0.6"/><path d="M169.38 391.27L172.19 396.59L166.58 396.59Z" fill="#0000ff" stroke="#0000ff" stroke-width="0.6"/><path d="M178.1 394.77L180.9 400.09L175.3 400.09Z" fill="#0000ff" stroke="#0000ff" stroke-width="0.6"/><path d="M186.81 392.77L189.61 398.09L184 398.09Z" fill="#0000ff" stroke="#0000ff" stroke-width="0.6"/><path d="M199.87 393.97L202.67 399.29L197.07 399.29Z" fill="#0000ff" stroke="#0000ff" stroke-width="0.6"/><path d="M217.29 387.37L220.09 392.69L214.49 392.69Z" fill="#0000ff" stroke="#0000ff" stroke-width="0.6"/><path d="M234.71 387.37L237.51 392.69L231.91 392.69Z" fill="#0000ff" stroke="#0000ff" stroke-width="0.6"/><path d="M252.13 390.67L254.93 395.99L249.33 395.99Z" fill="#0000ff" stroke="#0000ff" stroke-width="0.6"/><path d="M269.55 382.07L272.35 387.39L266.75 387.39Z" fill="#0000ff" stroke="#0000ff" stroke-width="0.6"/><path d="M286.97 397.67L289.77 402.99L284.17 402.99Z" fill="#0000ff" stroke="#0000ff" stroke-width="0.6"/><path d="M313.1 381.07L315.9 386.39L310.3 386.39Z" fill="#0000ff" stroke="#0000ff" stroke-width="0.6"/><path d="M347.94 391.57L350.74 396.89L345.14 396.89Z" fill="#0000ff" stroke="#0000ff" stroke-width="0.6"/><path d="M56.16 411.8 L64.86 429.6 L73.58 438.2 L82.28 442.3 L91 443.3 L99.7 439.8 L108.42 437.2 L117.12 433.2 L125.84 429.6 L134.55 427 L143.25 426 L151.97 424.5 L160.68 422 L169.38 417.9 L178.1 423 L186.81 420.9 L199.87 420.2 L217.29 409 L234.71 413.5 L252.13 413.1 L269.55 408.4 L286.97 415.5 L313.1 406.2 L347.94 436.2" fill="none" stroke="#ff0000" stroke-width="1.2" stroke-dasharray="1,1"/><line x1="347.94" y1="432.2" x2="347.94" y2="440.2" stroke="#ff0000" stroke-width="1"/><line x1="346.44" y1="432.2" x2="349.44" y2="432.2" stroke="#ff0000" stroke-width="1"/><line x1="346.44" y1="440.2" x2="349.44" y2="440.2" stroke="#ff0000" stroke-width="1"/><path d="M56.16 408.3L58.45 411.8L56.16 415.3L53.86 411.8Z" fill="#ff0000"/><path d="M64.86 426.1L67.16 429.6L64.86 433.1L62.56 429.6Z" fill="#ff0000"/><path d="M73.58 434.7L75.88 438.2L73.58 441.7L71.28 438.2Z" fill="#ff0000"/><path d="M82.28 438.8L84.58 442.3L82.28 445.8L79.98 442.3Z" fill="#ff0000"/><path d="M91 439.8L93.3 443.3L91 446.8L88.7 443.3Z" fill="#ff0000"/><path d="M99.7 436.3L102 439.8L99.7 443.3L97.41 439.8Z" fill="#ff0000"/><path d="M108.42 433.7L110.72 437.2L108.42 440.7L106.12 437.2Z" fill="#ff0000"/><path d="M117.12 429.7L119.42 433.2L117.12 436.7L114.83 433.2Z" fill="#ff0000"/><path d="M125.84 426.1L128.14 429.6L125.84 433.1L123.54 429.6Z" fill="#ff0000"/><path d="M134.55 423.5L136.85 427L134.55 430.5L132.25 427Z" fill="#ff0000"/><path d="M143.25 422.5L145.56 426L143.25 429.5L140.95 426Z" fill="#ff0000"/><path d="M151.97 421L154.27 424.5L151.97 428L149.66 424.5Z" fill="#ff0000"/><path d="M160.68 418.5L162.98 422L160.68 425.5L158.38 422Z" fill="#ff0000"/><path d="M169.38 414.4L171.69 417.9L169.38 421.4L167.08 417.9Z" fill="#ff0000"/><path d="M178.1 419.5L180.4 423L178.1 426.5L175.8 423Z" fill="#ff0000"/><path d="M186.81 417.4L189.11 420.9L186.81 424.4L184.5 420.9Z" fill="#ff0000"/><path d="M199.87 416.7L202.17 420.2L199.87 423.7L197.57 420.2Z" fill="#ff0000"/><path d="M217.29 405.5L219.59 409L217.29 412.5L214.99 409Z" fill="#ff0000"/><path d="M234.71 410L237.01 413.5L234.71 417L232.41 413.5Z" fill="#ff0000"/><path d="M252.13 409.6L254.43 413.1L252.13 416.6L249.83 413.1Z" fill="#ff0000"/><path d="M269.55 404.9L271.85 408.4L269.55 411.9L267.25 408.4Z" fill="#ff0000"/><path d="M286.97 412L289.27 415.5L286.97 419L284.67 415.5Z" fill="#ff0000"/><path d="M313.1 402.7L315.4 406.2L313.1 409.7L310.8 406.2Z" fill="#ff0000"/><path d="M347.94 432.7L350.24 436.2L347.94 439.7L345.64 436.2Z" fill="#ff0000"/></g><rect x="0" y="0" width="45.5" height="512" fill="#fff"/><rect x="371.0" y="0" width="22.0" height="512" fill="#fff"/><rect x="0" y="0" width="393" height="17.5" fill="#fff"/><rect x="0" y="477.5" width="393" height="34.5" fill="#fff"/><svg x="0" y="0" width="45" height="317.6"><text x="41.2" y="322.7" font-family="Liberation Sans, sans-serif" font-size="10.5" text-anchor="end">0</text></svg><rect x="45.5" y="17.5" width="325.5" height="300.0" fill="none" stroke="#000" stroke-width="1.3"/><rect x="45.5" y="317.5" width="325.5" height="160.0" fill="none" stroke="#000" stroke-width="1.3"/><line x1="51.8" y1="17.5" x2="51.8" y2="21.7" stroke="#000" stroke-width="1"/><line x1="51.8" y1="317.5" x2="51.8" y2="313.3" stroke="#000" stroke-width="1"/><line x1="51.8" y1="317.5" x2="51.8" y2="320.1" stroke="#000" stroke-width="1"/><line x1="51.8" y1="477.5" x2="51.8" y2="474.9" stroke="#000" stroke-width="1"/><line x1="69.22" y1="17.5" x2="69.22" y2="21.7" stroke="#000" stroke-width="1"/><line x1="69.22" y1="317.5" x2="69.22" y2="313.3" stroke="#000" stroke-width="1"/><line x1="69.22" y1="317.5" x2="69.22" y2="320.1" stroke="#000" stroke-width="1"/><line x1="69.22" y1="477.5" x2="69.22" y2="474.9" stroke="#000" stroke-width="1"/><line x1="86.64" y1="17.5" x2="86.64" y2="25.8" stroke="#000" stroke-width="1"/><line x1="86.64" y1="317.5" x2="86.64" y2="309.2" stroke="#000" stroke-width="1"/><line x1="86.64" y1="317.5" x2="86.64" y2="322.9" stroke="#000" stroke-width="1"/><line x1="86.64" y1="477.5" x2="86.64" y2="472.1" stroke="#000" stroke-width="1"/><line x1="104.06" y1="17.5" x2="104.06" y2="21.7" stroke="#000" stroke-width="1"/><line x1="104.06" y1="317.5" x2="104.06" y2="313.3" stroke="#000" stroke-width="1"/><line x1="104.06" y1="317.5" x2="104.06" y2="320.1" stroke="#000" stroke-width="1"/><line x1="104.06" y1="477.5" x2="104.06" y2="474.9" stroke="#000" stroke-width="1"/><line x1="121.48" y1="17.5" x2="121.48" y2="21.7" stroke="#000" stroke-width="1"/><line x1="121.48" y1="317.5" x2="121.48" y2="313.3" stroke="#000" stroke-width="1"/><line x1="121.48" y1="317.5" x2="121.48" y2="320.1" stroke="#000" stroke-width="1"/><line x1="121.48" y1="477.5" x2="121.48" y2="474.9" stroke="#000" stroke-width="1"/><line x1="138.9" y1="17.5" x2="138.9" y2="21.7" stroke="#000" stroke-width="1"/><line x1="138.9" y1="317.5" x2="138.9" y2="313.3" stroke="#000" stroke-width="1"/><line x1="138.9" y1="317.5" x2="138.9" y2="320.1" stroke="#000" stroke-width="1"/><line x1="138.9" y1="477.5" x2="138.9" y2="474.9" stroke="#000" stroke-width="1"/><line x1="156.32" y1="17.5" x2="156.32" y2="25.8" stroke="#000" stroke-width="1"/><line x1="156.32" y1="317.5" x2="156.32" y2="309.2" stroke="#000" stroke-width="1"/><line x1="156.32" y1="317.5" x2="156.32" y2="322.9" stroke="#000" stroke-width="1"/><line x1="156.32" y1="477.5" x2="156.32" y2="472.1" stroke="#000" stroke-width="1"/><line x1="173.74" y1="17.5" x2="173.74" y2="21.7" stroke="#000" stroke-width="1"/><line x1="173.74" y1="317.5" x2="173.74" y2="313.3" stroke="#000" stroke-width="1"/><line x1="173.74" y1="317.5" x2="173.74" y2="320.1" stroke="#000" stroke-width="1"/><line x1="173.74" y1="477.5" x2="173.74" y2="474.9" stroke="#000" stroke-width="1"/><line x1="191.16" y1="17.5" x2="191.16" y2="21.7" stroke="#000" stroke-width="1"/><line x1="191.16" y1="317.5" x2="191.16" y2="313.3" stroke="#000" stroke-width="1"/><line x1="191.16" y1="317.5" x2="191.16" y2="320.1" stroke="#000" stroke-width="1"/><line x1="191.16" y1="477.5" x2="191.16" y2="474.9" stroke="#000" stroke-width="1"/><line x1="208.58" y1="17.5" x2="208.58" y2="21.7" stroke="#000" stroke-width="1"/><line x1="208.58" y1="317.5" x2="208.58" y2="313.3" stroke="#000" stroke-width="1"/><line x1="208.58" y1="317.5" x2="208.58" y2="320.1" stroke="#000" stroke-width="1"/><line x1="208.58" y1="477.5" x2="208.58" y2="474.9" stroke="#000" stroke-width="1"/><line x1="226" y1="17.5" x2="226" y2="25.8" stroke="#000" stroke-width="1"/><line x1="226" y1="317.5" x2="226" y2="309.2" stroke="#000" stroke-width="1"/><line x1="226" y1="317.5" x2="226" y2="322.9" stroke="#000" stroke-width="1"/><line x1="226" y1="477.5" x2="226" y2="472.1" stroke="#000" stroke-width="1"/><line x1="243.42" y1="17.5" x2="243.42" y2="21.7" stroke="#000" stroke-width="1"/><line x1="243.42" y1="317.5" x2="243.42" y2="313.3" stroke="#000" stroke-width="1"/><line x1="243.42" y1="317.5" x2="243.42" y2="320.1" stroke="#000" stroke-width="1"/><line x1="243.42" y1="477.5" x2="243.42" y2="474.9" stroke="#000" stroke-width="1"/><line x1="260.84" y1="17.5" x2="260.84" y2="21.7" stroke="#000" stroke-width="1"/><line x1="260.84" y1="317.5" x2="260.84" y2="313.3" stroke="#000" stroke-width="1"/><line x1="260.84" y1="317.5" x2="260.84" y2="320.1" stroke="#000" stroke-width="1"/><line x1="260.84" y1="477.5" x2="260.84" y2="474.9" stroke="#000" stroke-width="1"/><line x1="278.26" y1="17.5" x2="278.26" y2="21.7" stroke="#000" stroke-width="1"/><line x1="278.26" y1="317.5" x2="278.26" y2="313.3" stroke="#000" stroke-width="1"/><line x1="278.26" y1="317.5" x2="278.26" y2="320.1" stroke="#000" stroke-width="1"/><line x1="278.26" y1="477.5" x2="278.26" y2="474.9" stroke="#000" stroke-width="1"/><line x1="295.68" y1="17.5" x2="295.68" y2="25.8" stroke="#000" stroke-width="1"/><line x1="295.68" y1="317.5" x2="295.68" y2="309.2" stroke="#000" stroke-width="1"/><line x1="295.68" y1="317.5" x2="295.68" y2="322.9" stroke="#000" stroke-width="1"/><line x1="295.68" y1="477.5" x2="295.68" y2="472.1" stroke="#000" stroke-width="1"/><line x1="313.1" y1="17.5" x2="313.1" y2="21.7" stroke="#000" stroke-width="1"/><line x1="313.1" y1="317.5" x2="313.1" y2="313.3" stroke="#000" stroke-width="1"/><line x1="313.1" y1="317.5" x2="313.1" y2="320.1" stroke="#000" stroke-width="1"/><line x1="313.1" y1="477.5" x2="313.1" y2="474.9" stroke="#000" stroke-width="1"/><line x1="330.52" y1="17.5" x2="330.52" y2="21.7" stroke="#000" stroke-width="1"/><line x1="330.52" y1="317.5" x2="330.52" y2="313.3" stroke="#000" stroke-width="1"/><line x1="330.52" y1="317.5" x2="330.52" y2="320.1" stroke="#000" stroke-width="1"/><line x1="330.52" y1="477.5" x2="330.52" y2="474.9" stroke="#000" stroke-width="1"/><line x1="347.94" y1="17.5" x2="347.94" y2="21.7" stroke="#000" stroke-width="1"/><line x1="347.94" y1="317.5" x2="347.94" y2="313.3" stroke="#000" stroke-width="1"/><line x1="347.94" y1="317.5" x2="347.94" y2="320.1" stroke="#000" stroke-width="1"/><line x1="347.94" y1="477.5" x2="347.94" y2="474.9" stroke="#000" stroke-width="1"/><line x1="365.36" y1="17.5" x2="365.36" y2="25.8" stroke="#000" stroke-width="1"/><line x1="365.36" y1="317.5" x2="365.36" y2="309.2" stroke="#000" stroke-width="1"/><line x1="365.36" y1="317.5" x2="365.36" y2="322.9" stroke="#000" stroke-width="1"/><line x1="365.36" y1="477.5" x2="365.36" y2="472.1" stroke="#000" stroke-width="1"/><line x1="45.5" y1="317.5" x2="56.5" y2="317.5" stroke="#000" stroke-width="1"/><line x1="371.0" y1="317.5" x2="360" y2="317.5" stroke="#000" stroke-width="1"/><line x1="45.5" y1="310.52" x2="51" y2="310.52" stroke="#000" stroke-width="1"/><line x1="371.0" y1="310.52" x2="365.5" y2="310.52" stroke="#000" stroke-width="1"/><line x1="45.5" y1="303.54" x2="51" y2="303.54" stroke="#000" stroke-width="1"/><line x1="371.0" y1="303.54" x2="365.5" y2="303.54" stroke="#000" stroke-width="1"/><line x1="45.5" y1="296.56" x2="51" y2="296.56" stroke="#000" stroke-width="1"/><line x1="371.0" y1="296.56" x2="365.5" y2="296.56" stroke="#000" stroke-width="1"/><line x1="45.5" y1="289.58" x2="56.5" y2="289.58" stroke="#000" stroke-width="1"/><line x1="371.0" y1="289.58" x2="360" y2="289.58" stroke="#000" stroke-width="1"/><line x1="45.5" y1="282.6" x2="51" y2="282.6" stroke="#000" stroke-width="1"/><line x1="371.0" y1="282.6" x2="365.5" y2="282.6" stroke="#000" stroke-width="1"/><line x1="45.5" y1="275.62" x2="51" y2="275.62" stroke="#000" stroke-width="1"/><line x1="371.0" y1="275.62" x2="365.5" y2="275.62" stroke="#000" stroke-width="1"/><line x1="45.5" y1="268.64" x2="51" y2="268.64" stroke="#000" stroke-width="1"/><line x1="371.0" y1="268.64" x2="365.5" y2="268.64" stroke="#000" stroke-width="1"/><line x1="45.5" y1="261.66" x2="56.5" y2="261.66" stroke="#000" stroke-width="1"/><line x1="371.0" y1="261.66" x2="360" y2="261.66" stroke="#000" stroke-width="1"/><line x1="45.5" y1="254.68" x2="51" y2="254.68" stroke="#000" stroke-width="1"/><line x1="371.0" y1="254.68" x2="365.5" y2="254.68" stroke="#000" stroke-width="1"/><line x1="45.5" y1="247.7" x2="51" y2="247.7" stroke="#000" stroke-width="1"/><line x1="371.0" y1="247.7" x2="365.5" y2="247.7" stroke="#000" stroke-width="1"/><line x1="45.5" y1="240.72" x2="51" y2="240.72" stroke="#000" stroke-width="1"/><line x1="371.0" y1="240.72" x2="365.5" y2="240.72" stroke="#000" stroke-width="1"/><line x1="45.5" y1="233.74" x2="56.5" y2="233.74" stroke="#000" stroke-width="1"/><line x1="371.0" y1="233.74" x2="360" y2="233.74" stroke="#000" stroke-width="1"/><line x1="45.5" y1="226.76" x2="51" y2="226.76" stroke="#000" stroke-width="1"/><line x1="371.0" y1="226.76" x2="365.5" y2="226.76" stroke="#000" stroke-width="1"/><line x1="45.5" y1="219.78" x2="51" y2="219.78" stroke="#000" stroke-width="1"/><line x1="371.0" y1="219.78" x2="365.5" y2="219.78" stroke="#000" stroke-width="1"/><line x1="45.5" y1="212.8" x2="51" y2="212.8" stroke="#000" stroke-width="1"/><line x1="371.0" y1="212.8" x2="365.5" y2="212.8" stroke="#000" stroke-width="1"/><line x1="45.5" y1="205.82" x2="56.5" y2="205.82" stroke="#000" stroke-width="1"/><line x1="371.0" y1="205.82" x2="360" y2="205.82" stroke="#000" stroke-width="1"/><line x1="45.5" y1="198.84" x2="51" y2="198.84" stroke="#000" stroke-width="1"/><line x1="371.0" y1="198.84" x2="365.5" y2="198.84" stroke="#000" stroke-width="1"/><line x1="45.5" y1="191.86" x2="51" y2="191.86" stroke="#000" stroke-width="1"/><line x1="371.0" y1="191.86" x2="365.5" y2="191.86" stroke="#000" stroke-width="1"/><line x1="45.5" y1="184.88" x2="51" y2="184.88" stroke="#000" stroke-width="1"/><line x1="371.0" y1="184.88" x2="365.5" y2="184.88" stroke="#000" stroke-width="1"/><line x1="45.5" y1="177.9" x2="56.5" y2="177.9" stroke="#000" stroke-width="1"/><line x1="371.0" y1="177.9" x2="360" y2="177.9" stroke="#000" stroke-width="1"/><line x1="45.5" y1="170.92" x2="51" y2="170.92" stroke="#000" stroke-width="1"/><line x1="371.0" y1="170.92" x2="365.5" y2="170.92" stroke="#000" stroke-width="1"/><line x1="45.5" y1="163.94" x2="51" y2="163.94" stroke="#000" stroke-width="1"/><line x1="371.0" y1="163.94" x2="365.5" y2="163.94" stroke="#000" stroke-width="1"/><line x1="45.5" y1="156.96" x2="51" y2="156.96" stroke="#000" stroke-width="1"/><line x1="371.0" y1="156.96" x2="365.5" y2="156.96" stroke="#000" stroke-width="1"/><line x1="45.5" y1="149.98" x2="56.5" y2="149.98" stroke="#000" stroke-width="1"/><line x1="371.0" y1="149.98" x2="360" y2="149.98" stroke="#000" stroke-width="1"/><line x1="45.5" y1="143" x2="51" y2="143" stroke="#000" stroke-width="1"/><line x1="371.0" y1="143" x2="365.5" y2="143" stroke="#000" stroke-width="1"/><line x1="45.5" y1="136.02" x2="51" y2="136.02" stroke="#000" stroke-width="1"/><line x1="371.0" y1="136.02" x2="365.5" y2="136.02" stroke="#000" stroke-width="1"/><line x1="45.5" y1="129.04" x2="51" y2="129.04" stroke="#000" stroke-width="1"/><line x1="371.0" y1="129.04" x2="365.5" y2="129.04" stroke="#000" stroke-width="1"/><line x1="45.5" y1="122.06" x2="56.5" y2="122.06" stroke="#000" stroke-width="1"/><line x1="371.0" y1="122.06" x2="360" y2="122.06" stroke="#000" stroke-width="1"/><line x1="45.5" y1="115.08" x2="51" y2="115.08" stroke="#000" stroke-width="1"/><line x1="371.0" y1="115.08" x2="365.5" y2="115.08" stroke="#000" stroke-width="1"/><line x1="45.5" y1="108.1" x2="51" y2="108.1" stroke="#000" stroke-width="1"/><line x1="371.0" y1="108.1" x2="365.5" y2="108.1" stroke="#000" stroke-width="1"/><line x1="45.5" y1="101.12" x2="51" y2="101.12" stroke="#000" stroke-width="1"/><line x1="371.0" y1="101.12" x2="365.5" y2="101.12" stroke="#000" stroke-width="1"/><line x1="45.5" y1="94.14" x2="56.5" y2="94.14" stroke="#000" stroke-width="1"/><line x1="371.0" y1="94.14" x2="360" y2="94.14" stroke="#000" stroke-width="1"/><line x1="45.5" y1="87.16" x2="51" y2="87.16" stroke="#000" stroke-width="1"/><line x1="371.0" y1="87.16" x2="365.5" y2="87.16" stroke="#000" stroke-width="1"/><line x1="45.5" y1="80.18" x2="51" y2="80.18" stroke="#000" stroke-width="1"/><line x1="371.0" y1="80.18" x2="365.5" y2="80.18" stroke="#000" stroke-width="1"/><line x1="45.5" y1="73.2" x2="51" y2="73.2" stroke="#000" stroke-width="1"/><line x1="371.0" y1="73.2" x2="365.5" y2="73.2" stroke="#000" stroke-width="1"/><line x1="45.5" y1="66.22" x2="56.5" y2="66.22" stroke="#000" stroke-width="1"/><line x1="371.0" y1="66.22" x2="360" y2="66.22" stroke="#000" stroke-width="1"/><line x1="45.5" y1="59.24" x2="51" y2="59.24" stroke="#000" stroke-width="1"/><line x1="371.0" y1="59.24" x2="365.5" y2="59.24" stroke="#000" stroke-width="1"/><line x1="45.5" y1="52.26" x2="51" y2="52.26" stroke="#000" stroke-width="1"/><line x1="371.0" y1="52.26" x2="365.5" y2="52.26" stroke="#000" stroke-width="1"/><line x1="45.5" y1="45.28" x2="51" y2="45.28" stroke="#000" stroke-width="1"/><line x1="371.0" y1="45.28" x2="365.5" y2="45.28" stroke="#000" stroke-width="1"/><line x1="45.5" y1="38.3" x2="56.5" y2="38.3" stroke="#000" stroke-width="1"/><line x1="371.0" y1="38.3" x2="360" y2="38.3" stroke="#000" stroke-width="1"/><line x1="45.5" y1="31.32" x2="51" y2="31.32" stroke="#000" stroke-width="1"/><line x1="371.0" y1="31.32" x2="365.5" y2="31.32" stroke="#000" stroke-width="1"/><line x1="45.5" y1="24.34" x2="51" y2="24.34" stroke="#000" stroke-width="1"/><line x1="371.0" y1="24.34" x2="365.5" y2="24.34" stroke="#000" stroke-width="1"/><line x1="45.5" y1="477.53" x2="50.8" y2="477.53" stroke="#000" stroke-width="1"/><line x1="371.0" y1="477.53" x2="365.7" y2="477.53" stroke="#000" stroke-width="1"/><line x1="45.5" y1="458.09" x2="52" y2="458.09" stroke="#000" stroke-width="1"/><line x1="371.0" y1="458.09" x2="364.5" y2="458.09" stroke="#000" stroke-width="1"/><line x1="45.5" y1="442.2" x2="50.8" y2="442.2" stroke="#000" stroke-width="1"/><line x1="371.0" y1="442.2" x2="365.7" y2="442.2" stroke="#000" stroke-width="1"/><line x1="45.5" y1="428.77" x2="50.8" y2="428.77" stroke="#000" stroke-width="1"/><line x1="371.0" y1="428.77" x2="365.7" y2="428.77" stroke="#000" stroke-width="1"/><line x1="45.5" y1="417.14" x2="50.8" y2="417.14" stroke="#000" stroke-width="1"/><line x1="371.0" y1="417.14" x2="365.7" y2="417.14" stroke="#000" stroke-width="1"/><line x1="45.5" y1="406.88" x2="50.8" y2="406.88" stroke="#000" stroke-width="1"/><line x1="371.0" y1="406.88" x2="365.7" y2="406.88" stroke="#000" stroke-width="1"/><line x1="45.5" y1="397.7" x2="52" y2="397.7" stroke="#000" stroke-width="1"/><line x1="371.0" y1="397.7" x2="364.5" y2="397.7" stroke="#000" stroke-width="1"/><line x1="45.5" y1="389.4" x2="50.8" y2="389.4" stroke="#000" stroke-width="1"/><line x1="371.0" y1="389.4" x2="365.7" y2="389.4" stroke="#000" stroke-width="1"/><line x1="45.5" y1="381.82" x2="50.8" y2="381.82" stroke="#000" stroke-width="1"/><line x1="371.0" y1="381.82" x2="365.7" y2="381.82" stroke="#000" stroke-width="1"/><line x1="45.5" y1="374.84" x2="50.8" y2="374.84" stroke="#000" stroke-width="1"/><line x1="371.0" y1="374.84" x2="365.7" y2="374.84" stroke="#000" stroke-width="1"/><line x1="45.5" y1="368.39" x2="50.8" y2="368.39" stroke="#000" stroke-width="1"/><line x1="371.0" y1="368.39" x2="365.7" y2="368.39" stroke="#000" stroke-width="1"/><line x1="45.5" y1="362.38" x2="50.8" y2="362.38" stroke="#000" stroke-width="1"/><line x1="371.0" y1="362.38" x2="365.7" y2="362.38" stroke="#000" stroke-width="1"/><line x1="45.5" y1="356.75" x2="50.8" y2="356.75" stroke="#000" stroke-width="1"/><line x1="371.0" y1="356.75" x2="365.7" y2="356.75" stroke="#000" stroke-width="1"/><line x1="45.5" y1="351.47" x2="50.8" y2="351.47" stroke="#000" stroke-width="1"/><line x1="371.0" y1="351.47" x2="365.7" y2="351.47" stroke="#000" stroke-width="1"/><line x1="45.5" y1="346.49" x2="50.8" y2="346.49" stroke="#000" stroke-width="1"/><line x1="371.0" y1="346.49" x2="365.7" y2="346.49" stroke="#000" stroke-width="1"/><line x1="45.5" y1="341.78" x2="50.8" y2="341.78" stroke="#000" stroke-width="1"/><line x1="371.0" y1="341.78" x2="365.7" y2="341.78" stroke="#000" stroke-width="1"/><line x1="45.5" y1="337.31" x2="52" y2="337.31" stroke="#000" stroke-width="1"/><line x1="371.0" y1="337.31" x2="364.5" y2="337.31" stroke="#000" stroke-width="1"/><line x1="45.5" y1="333.06" x2="50.8" y2="333.06" stroke="#000" stroke-width="1"/><line x1="371.0" y1="333.06" x2="365.7" y2="333.06" stroke="#000" stroke-width="1"/><line x1="45.5" y1="329.01" x2="50.8" y2="329.01" stroke="#000" stroke-width="1"/><line x1="371.0" y1="329.01" x2="365.7" y2="329.01" stroke="#000" stroke-width="1"/><line x1="45.5" y1="325.14" x2="50.8" y2="325.14" stroke="#000" stroke-width="1"/><line x1="371.0" y1="325.14" x2="365.7" y2="325.14" stroke="#000" stroke-width="1"/><line x1="45.5" y1="321.43" x2="50.8" y2="321.43" stroke="#000" stroke-width="1"/><line x1="371.0" y1="321.43" x2="365.7" y2="321.43" stroke="#000" stroke-width="1"/><text x="51.4" y="14.3" font-family="Liberation Sans, sans-serif" font-size="12" text-anchor="start" fill="#000" >900 GeV pp</text><text x="367.2" y="14.3" font-family="Liberation Sans, sans-serif" font-size="12" text-anchor="end" fill="#000" >Underlying Event</text><text x="99.2" y="41" font-family="Liberation Sans, sans-serif" font-size="12" text-anchor="start" fill="#000" >Away N</text><text x="140.2" y="47.3" font-family="Liberation Sans, sans-serif" font-size="7.8" text-anchor="start" fill="#000" >chg</text><text x="155" y="41" font-family="Liberation Sans, sans-serif" font-size="12" text-anchor="start" fill="#000" >density vs. p</text><text x="219.4" y="34.6" font-family="Liberation Sans, sans-serif" font-size="8" text-anchor="start" fill="#000" >trk1</text><text x="219.6" y="47.8" font-family="Liberation Sans, sans-serif" font-size="8" text-anchor="start" fill="#000" >T</text><text x="232.2" y="41" font-family="Liberation Sans, sans-serif" font-size="12" text-anchor="start" fill="#000" >,</text><path d="M238.6 37.4L239.8 36.6L241.4 41.5L243.4 31.4L250.2 31.4" fill="none" stroke="#000" stroke-width="1"/><text x="243.6" y="41" font-family="Liberation Sans, sans-serif" font-size="12" text-anchor="start" fill="#000" >s</text><text x="252.3" y="41" font-family="Liberation Sans, sans-serif" font-size="12" text-anchor="start" fill="#000" >= {900 GeV}</text><text x="41" y="294.18" font-family="Liberation Sans, sans-serif" font-size="11" text-anchor="end" fill="#000" letter-spacing="0.4">0.2</text><text x="41" y="266.26" font-family="Liberation Sans, sans-serif" font-size="11" text-anchor="end" fill="#000" letter-spacing="0.4">0.4</text><text x="41" y="238.34" font-family="Liberation Sans, sans-serif" font-size="11" text-anchor="end" fill="#000" letter-spacing="0.4">0.6</text><text x="41" y="210.42" font-family="Liberation Sans, sans-serif" font-size="11" text-anchor="end" fill="#000" letter-spacing="0.4">0.8</text><text x="41" y="182.5" font-family="Liberation Sans, sans-serif" font-size="11" text-anchor="end" fill="#000" letter-spacing="0.4">1</text><text x="41" y="154.58" font-family="Liberation Sans, sans-serif" font-size="11" text-anchor="end" fill="#000" letter-spacing="0.4">1.2</text><text x="41" y="126.66" font-family="Liberation Sans, sans-serif" font-size="11" text-anchor="end" fill="#000" letter-spacing="0.4">1.4</text><text x="41" y="98.74" font-family="Liberation Sans, sans-serif" font-size="11" text-anchor="end" fill="#000" letter-spacing="0.4">1.6</text><text x="41" y="70.82" font-family="Liberation Sans, sans-serif" font-size="11" text-anchor="end" fill="#000" letter-spacing="0.4">1.8</text><text x="41" y="42.9" font-family="Liberation Sans, sans-serif" font-size="11" text-anchor="end" fill="#000" letter-spacing="0.4">2</text><text x="39.2" y="462.09" font-family="Liberation Sans, sans-serif" font-size="11" text-anchor="end" fill="#000" letter-spacing="0.4">0.5</text><text x="373.4" y="462.09" font-family="Liberation Sans, sans-serif" font-size="11" text-anchor="start" fill="#000" >0.5</text><text x="39.2" y="401.7" font-family="Liberation Sans, sans-serif" font-size="11" text-anchor="end" fill="#000" letter-spacing="0.4">1</text><text x="373.4" y="401.7" font-family="Liberation Sans, sans-serif" font-size="11" text-anchor="start" fill="#000" >1</text><text x="39.2" y="341.31" font-family="Liberation Sans, sans-serif" font-size="11" text-anchor="end" fill="#000" letter-spacing="0.4">2</text><text x="373.4" y="341.31" font-family="Liberation Sans, sans-serif" font-size="11" text-anchor="start" fill="#000" >2</text><text x="86.64" y="489.2" font-family="Liberation Sans, sans-serif" font-size="11" text-anchor="middle" fill="#000" >2</text><text x="156.32" y="489.2" font-family="Liberation Sans, sans-serif" font-size="11" text-anchor="middle" fill="#000" >4</text><text x="226" y="489.2" font-family="Liberation Sans, sans-serif" font-size="11" text-anchor="middle" fill="#000" >6</text><text x="295.68" y="489.2" font-family="Liberation Sans, sans-serif" font-size="11" text-anchor="middle" fill="#000" >8</text><text x="365.36" y="489.2" font-family="Liberation Sans, sans-serif" font-size="11" text-anchor="middle" fill="#000" >10</text><text x="243" y="501.7" font-family="Liberation Sans, sans-serif" font-size="12.5" text-anchor="start" fill="#000" >p</text><text x="250.3" y="508" font-family="Liberation Sans, sans-serif" font-size="8" text-anchor="start" fill="#000" >T</text><text x="258" y="501.7" font-family="Liberation Sans, sans-serif" font-size="12.5" text-anchor="start" fill="#000" >(leading track) [GeV]</text><text transform="translate(16.2,101) rotate(-90)" font-family="Liberation Sans, sans-serif" font-size="11.5">#⟨d<tspan font-size="8.5" dy="-5.2">2</tspan><tspan dy="5.2" dx="0.8">N</tspan><tspan font-size="8.5" dy="3">chg</tspan><tspan dy="-3" dx="-1">/dηdφ#⟩</tspan></text><text transform="translate(18.1,396) rotate(-90)" font-family="Liberation Sans, sans-serif" font-size="9" text-anchor="middle">Ratio to ATLAS</text><text transform="translate(380.2,127) rotate(-90)" font-family="Liberation Sans, sans-serif" font-size="9.4" fill="#888">Rivet 4.1.0, ≥ 300k events</text><text transform="translate(380.8,313.5) rotate(-90)" font-family="Liberation Sans, sans-serif" font-size="9.4" fill="#888">mcplots.cern.ch [arXiv:2401.10621]</text><text x="165" y="301.8" font-family="Liberation Sans, sans-serif" font-size="8" text-anchor="start" fill="#aaa" >(ATLAS_2010_I879407)</text><text x="93.4" y="65.3" font-family="Liberation Sans, sans-serif" font-size="9.45" text-anchor="start" fill="#000" >ATLAS</text><text x="93.4" y="78.3" font-family="Liberation Sans, sans-serif" font-size="9.45" text-anchor="start" fill="#000" >Epos 1.99.crmc.1.6.0 lhc</text><text x="93.4" y="91.3" font-family="Liberation Sans, sans-serif" font-size="9.45" text-anchor="start" fill="#000" >Herwig 7.2.1 default</text><text x="93.4" y="104.3" font-family="Liberation Sans, sans-serif" font-size="9.45" text-anchor="start" fill="#000" >Pythia 6.428 370</text><text x="93.4" y="117.3" font-family="Liberation Sans, sans-serif" font-size="9.45" text-anchor="start" fill="#000" >Pythia 8.315 default</text><text x="93.4" y="130.5" font-family="Liberation Sans, sans-serif" font-size="9.45" text-anchor="start" fill="#000" >Sherpa 2.2.9 default</text><rect x="73.5" y="59" width="6" height="6" fill="#000" stroke="none" stroke-width="0"/><path d="M64 75 L89 75" fill="none" stroke="#ff8080" stroke-width="1.1"/><circle cx="76.5" cy="75" r="2.2" fill="none" stroke="#ff8080" stroke-width="1"/><line x1="76.5" y1="72.8" x2="76.5" y2="77.2" stroke="#ff8080" stroke-width="0.8"/><path d="M64 88 L89 88" fill="none" stroke="#339933" stroke-width="1.1" stroke-dasharray="3,2"/><rect x="73.75" y="85.25" width="5.5" height="5.5" fill="#fff" stroke="#339933" stroke-width="1.3"/><path d="M64 101 L89 101" fill="none" stroke="#a00028" stroke-width="1.1"/><path d="M76.5 97.76L79.6 103.65L73.4 103.65Z" fill="#fff" stroke="#a00028" stroke-width="1.1"/><path d="M64 114 L89 114" fill="none" stroke="#0000ff" stroke-width="1.1"/><path d="M76.5 110.76L79.6 116.65L73.4 116.65Z" fill="#0000ff" stroke="#0000ff" stroke-width="0.6"/><path d="M64 127.2 L89 127.2" fill="none" stroke="#ff0000" stroke-width="1.2" stroke-dasharray="1,1"/><path d="M76.5 123.7L78.8 127.2L76.5 130.7L74.2 127.2Z" fill="#ff0000"/></svg></body></html>
